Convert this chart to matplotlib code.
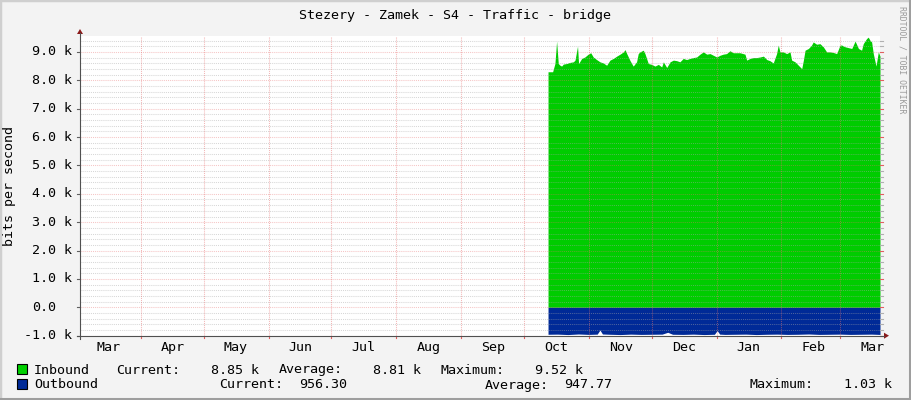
import matplotlib
matplotlib.use('Agg')
import matplotlib.pyplot as plt
from matplotlib.patches import Rectangle, Polygon
from matplotlib.lines import Line2D
from matplotlib import transforms
import numpy as np

# ---------------- data ----------------
title = "Stezery - Zamek - S4 - Traffic - bridge"
ylabel = "bits per second"

month_names = ["Mar", "Apr", "May", "Jun", "Jul", "Aug", "Sep",
               "Oct", "Nov", "Dec", "Jan", "Feb", "Mar"]
month_lengths = [31, 30, 31, 30, 31, 31, 30, 31, 30, 31, 31, 28, 31]

# days counted from 1 March of the first year
in_days = [225.5, 227.7, 228.0, 228.8, 229.6, 230.4, 231.2, 232.0, 232.8, 234.4,
           236.0, 237.6, 238.4, 239.6, 240.1, 241.6, 243.1, 244.7, 245.9, 247.1,
           248.7, 250.3, 251.9, 253.5, 255.1, 256.7, 258.3, 259.9, 261.5, 262.3,
           263.1, 264.7, 266.2, 267.8, 268.6, 269.4, 271.0, 271.8, 273.4, 275.0,
           276.6, 278.2, 279.8, 280.6, 282.2, 283.8, 285.4, 287.0, 288.5, 290.1,
           291.7, 293.3, 294.9, 296.5, 298.1, 299.7, 301.3, 302.9, 304.5, 306.1,
           307.6, 309.2, 310.8, 312.4, 314.0, 315.6, 317.2, 319.6, 320.4, 322.0,
           323.6, 325.2, 326.8, 328.4, 330.0, 331.5, 333.1, 334.7, 335.5, 336.3,
           337.9, 339.5, 341.1, 341.9, 343.5, 345.1, 346.7, 347.5, 348.3, 349.9,
           351.4, 352.2, 353.8, 355.4, 357.0, 358.6, 360.2, 361.8, 363.4, 365.0,
           365.8, 367.4, 369.0, 370.6, 372.2, 373.8, 375.3, 376.1, 377.7, 378.5,
           379.3, 380.1, 380.9, 382.2, 383.3, 384.1]
inbound_k = [8.30, 8.30, 8.38, 8.59, 9.38, 8.59, 8.53, 8.50, 8.57, 8.59,
             8.63, 8.65, 8.71, 9.20, 8.59, 8.77, 8.82, 8.92, 8.97, 8.82,
             8.73, 8.65, 8.61, 8.53, 8.71, 8.77, 8.85, 8.92, 9.00, 9.08,
             8.94, 8.69, 8.50, 8.65, 8.94, 9.00, 9.06, 8.94, 8.59, 8.56,
             8.50, 8.56, 8.47, 8.65, 8.45, 8.65, 8.71, 8.69, 8.65, 8.77,
             8.73, 8.77, 8.80, 8.82, 8.92, 9.00, 8.92, 8.94, 8.88, 8.82,
             8.88, 8.92, 8.94, 9.04, 8.97, 8.97, 8.97, 8.92, 8.71, 8.77,
             8.80, 8.80, 8.82, 8.85, 8.73, 8.69, 8.61, 8.94, 9.24, 9.00,
             9.00, 8.94, 9.00, 8.71, 8.65, 8.53, 8.41, 8.71, 9.06, 9.12,
             9.24, 9.35, 9.27, 9.29, 9.18, 9.00, 9.00, 8.98, 8.94, 9.24,
             9.24, 9.18, 9.15, 9.12, 9.38, 9.12, 9.06, 9.29, 9.47, 9.52,
             9.41, 9.35, 8.94, 8.50, 9.00, 8.85]

out_days = [225.5, 230.0, 235.0, 240.0, 245.0, 249.0, 250.3, 251.5, 255.0, 260.0,
            265.0, 270.0, 275.0, 280.0, 282.7, 285.0, 290.0, 295.0, 300.0, 305.0,
            306.3, 307.5, 310.0, 315.0, 320.0, 325.0, 330.0, 335.0, 340.0, 345.0,
            350.0, 355.0, 360.0, 365.0, 370.0, 375.0, 380.0, 384.1]
outbound = [950, 945, 960, 940, 955, 945, 800, 940, 950, 960,
            945, 955, 950, 945, 880, 950, 955, 945, 960, 950,
            820, 945, 955, 950, 945, 960, 950, 945, 955, 950,
            940, 955, 950, 945, 955, 950, 945, 956.3]

legend_rows = [
    ("Inbound", "#00CF00", [("Current:", "8.85 k"), ("Average:", "8.81 k"), ("Maximum:", "9.52 k")]),
    ("Outbound", "#002A97", [("Current:", "956.30"), ("Average:", "947.77"), ("Maximum:", "1.03 k")]),
]

y_major = [-1000, 0, 1000, 2000, 3000, 4000, 5000, 6000, 7000, 8000, 9000]
y_major_labels = ["-1.0 k", "0.0", "1.0 k", "2.0 k", "3.0 k", "4.0 k", "5.0 k",
                  "6.0 k", "7.0 k", "8.0 k", "9.0 k"]

# ---------------- figure ----------------
plt.rcParams['font.family'] = ['DejaVu Sans Mono']
FS = 9.6
W, H = 911, 400
fig = plt.figure(figsize=(W / 100, H / 100), dpi=100)
fig.patch.set_facecolor('#F3F3F3')

def fx(x):
    return x / W

def fy(y):
    return 1 - y / H

# frame
fig.add_artist(Rectangle((0, 0), 1, 1, transform=fig.transFigure, fill=False,
                         edgecolor='#CFCFCF', lw=2.5))
fig.add_artist(Line2D([fx(W - 1.5), fx(W - 1.5)], [0, 1], transform=fig.transFigure,
                      color='#9E9E9E', lw=2.2))
fig.add_artist(Line2D([0, 1], [fy(H - 1.5), fy(H - 1.5)], transform=fig.transFigure,
                      color='#9E9E9E', lw=2.2))

L, R, T, B = 80, 880, 36, 335.7
ax = fig.add_axes([fx(L), fy(B), (R - L) / W, (B - T) / H])
ax.set_facecolor('white')
for s in ax.spines.values():
    s.set_visible(False)
ax.set_xlim(1.9, 384.1)
ax.set_ylim(-1000, 9560)

ax.fill_between(in_days, 0, np.array(inbound_k) * 1000, color='#00CC00', lw=0, zorder=1)
ax.fill_between(out_days, 0, -np.array(outbound), color='#002A97', lw=0, zorder=1)

# grid
dot = (0, (1, 1))
for v in range(-1000, 9561, 200):
    if v % 1000 == 0:
        ax.axhline(v, color='#E87070', alpha=0.4, lw=0.75, ls=dot, zorder=3)
    else:
        ax.axhline(v, color='#A8A8A8', alpha=0.45, lw=0.75, ls=dot, zorder=3)
bounds = np.cumsum([0] + month_lengths)
for b in bounds[1:-1]:
    ax.axvline(b, color='#E87070', alpha=0.5, lw=0.75, ls=dot, zorder=3)

ax.set_xticks([])
ax.set_yticks([])

# right side small ticks
tr = transforms.blended_transform_factory(ax.transAxes, ax.transData)
for v in range(-1000, 9561, 200):
    col = '#E06060' if v % 1000 == 0 else '#B0B0B0'
    ax.plot([1.0, 1.004], [v, v], transform=tr, color=col, lw=0.8, clip_on=False)

# left ticks + labels
for v, lab in zip(y_major, y_major_labels):
    ax.plot([-0.004, 0], [v, v], transform=tr, color='#606060', lw=0.8, clip_on=False)
    pad = 0 if lab.endswith('k') else 16
    ax.annotate(lab, xy=(0, v), xycoords=tr, xytext=(-(7.5 + pad) * 0.72, -3.5 * 0.72),
                textcoords='offset points', ha='right', va='baseline', fontsize=FS,
                color='#000000')

# bottom ticks and month labels
trx = transforms.blended_transform_factory(ax.transData, ax.transAxes)
for b in bounds[1:-1]:
    ax.plot([b, b], [0, -0.009], transform=trx, color='#E06060', lw=0.8, clip_on=False)
for i, name in enumerate(month_names):
    c = bounds[i] + 15.3
    ax.annotate(name, xy=(c, 0), xycoords=trx, xytext=(0, -15.5 * 0.72),
                textcoords='offset points', ha='center', va='baseline', fontsize=FS)

# axis lines and arrows
fig.add_artist(Line2D([fx(80), fx(80)], [fy(338.5), fy(33)], transform=fig.transFigure,
                      color='#505050', lw=0.8))
fig.add_artist(Line2D([fx(77), fx(884)], [fy(335.7), fy(335.7)], transform=fig.transFigure,
                      color='#505050', lw=0.8))
fig.add_artist(Polygon([(fx(77), fy(34)), (fx(83), fy(34)), (fx(80), fy(29))],
                       closed=True, transform=fig.transFigure, color='#8B1A1A', lw=0))
fig.add_artist(Polygon([(fx(884), fy(332.7)), (fx(884), fy(338.7)), (fx(889), fy(335.7))],
                       closed=True, transform=fig.transFigure, color='#8B1A1A', lw=0))

# title, labels
fig.text(fx(455), fy(19), title, ha='center', va='baseline', fontsize=FS)
fig.text(fx(10), fy(186), ylabel, ha='center', va='center', rotation=90, fontsize=FS)
fig.text(fx(902), fy(60), "RRDTOOL / TOBI OETIKER", ha='center', va='center',
         rotation=270, fontsize=5.9, color='#9A9A9A')

# legend
row_y = [369, 384]
label_pos = [[(116.5, 258.4), (279, 420.6), (440.9, 582.7)],
             [(219.6, 347.0), (484.8, 611.7), (750, 891.7)]]
for (name, col, items), y, pos in zip(legend_rows, row_y, label_pos):
    fig.add_artist(Rectangle((fx(17), fy(y + 4.5)), 9.5 / W, 9.5 / H,
                             transform=fig.transFigure, facecolor=col,
                             edgecolor='black', lw=0.8))
    yb = fy(y + 4.5)
    fig.text(fx(34), yb, name, ha='left', va='baseline', fontsize=FS)
    for (lab, val), (xl, xr) in zip(items, pos):
        fig.text(fx(xl - 0.5), yb, lab, ha='left', va='baseline', fontsize=FS)
        fig.text(fx(xr + 0.5), yb, val, ha='right', va='baseline', fontsize=FS)

fig.savefig('out.png', dpi=100, facecolor=fig.get_facecolor())
